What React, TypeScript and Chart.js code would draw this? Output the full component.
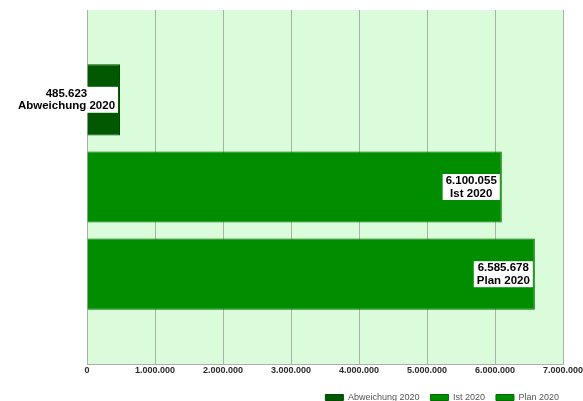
import React, { useEffect, useRef } from 'react';
import { Chart, registerables } from 'chart.js';

Chart.register(...registerables);

const categories = [''];
const seriesNames = ['Abweichung 2020', 'Ist 2020', 'Plan 2020'];
const abweichungValues = [485623];
const istValues = [6100055];
const planValues = [6585678];
const xTickLabels = ['0', '1.000.000', '2.000.000', '3.000.000', '4.000.000', '5.000.000', '6.000.000', '7.000.000'];

const FONT = '"Liberation Sans", Arial, Helvetica, sans-serif';

function fmt(n: number): string {
  return String(Math.round(n)).replace(/\B(?=(\d{3})+(?!\d))/g, '.');
}

const plotBgPlugin = {
  id: 'plotBg',
  beforeDraw(chart: any) {
    const { ctx, chartArea: a } = chart;
    ctx.save();
    ctx.fillStyle = '#dafcda';
    ctx.fillRect(a.left, a.top, a.right - a.left, a.bottom - a.top);
    ctx.restore();
  },
};

const barLabelPlugin = {
  id: 'barLabels',
  afterDatasetsDraw(chart: any) {
    const { ctx } = chart;
    ctx.save();
    ctx.font = `bold 11.5px ${FONT}`;
    chart.data.datasets.forEach((ds: any, i: number) => {
      const meta = chart.getDatasetMeta(i);
      const el = meta.data[0];
      if (!el) return;
      const lines = [fmt(ds.data[0]), ds.label];
      const w = Math.max(...lines.map((t) => ctx.measureText(t).width)) + 6;
      const h = 26;
      const right = el.x - 2;
      const left = right - w;
      const top = el.y - h / 2;
      ctx.fillStyle = '#ffffff';
      ctx.fillRect(left, top, w, h);
      ctx.fillStyle = '#000000';
      ctx.textAlign = 'center';
      ctx.textBaseline = 'middle';
      const cx = left + w / 2;
      ctx.fillText(lines[0], cx, el.y - 6);
      ctx.fillText(lines[1], cx, el.y + 6.5);
    });
    ctx.restore();
  },
};

export default function App() {
  const ref = useRef<HTMLCanvasElement | null>(null);

  useEffect(() => {
    if (!ref.current) return;
    const chart = new Chart(ref.current, {
      type: 'bar',
      data: {
        labels: categories,
        datasets: [
          {
            label: seriesNames[0],
            data: abweichungValues,
            backgroundColor: '#005800',
            borderColor: '#004a00',
            borderWidth: 1,
          },
          {
            label: seriesNames[1],
            data: istValues,
            backgroundColor: '#008e00',
            borderColor: '#006c00',
            borderWidth: 1,
          },
          {
            label: seriesNames[2],
            data: planValues,
            backgroundColor: '#008e00',
            borderColor: '#006c00',
            borderWidth: 1,
          },
        ],
      },
      options: {
        indexAxis: 'y',
        animation: false,
        responsive: false,
        devicePixelRatio: 1,
        layout: { padding: { top: 10, left: 87, right: 13, bottom: 0 } },
        datasets: {
          bar: { categoryPercentage: 0.739, barPercentage: 0.817 },
        },
        scales: {
          x: {
            type: 'linear',
            min: 0,
            max: 7000000,
            ticks: {
              stepSize: 1000000,
              padding: 1.5,
              color: '#2a2a2a',
              font: { family: FONT, size: 9, weight: 'bold' },
              maxRotation: 0,
              autoSkip: false,
              callback: (_v: any, i: number) => xTickLabels[i],
            },
            grid: { color: '#a6b3a6', lineWidth: 1, drawTicks: false },
            border: { display: true, color: '#a6b3a6' },
            afterFit: (scale: any) => {
              scale.height += 4.2;
              scale.paddingRight = 20;
            },
          },
          y: { display: false },
        },
        plugins: {
          legend: {
            position: 'bottom',
            align: 'end',
            labels: {
              boxWidth: 18,
              boxHeight: 6,
              padding: 11,
              color: '#555555',
              font: { family: FONT, size: 9 },
            },
          },
          tooltip: { enabled: false },
        },
      },
      plugins: [plotBgPlugin, barLabelPlugin],
    } as any);
    return () => chart.destroy();
  }, []);

  return (
    <div
      style={{
        position: 'fixed',
        left: 0,
        top: 0,
        width: 583,
        height: 401,
        overflow: 'hidden',
        background: '#ffffff',
      }}
    >
      <canvas ref={ref} width={583} height={412} style={{ display: 'block', width: 583, height: 412 }} />
    </div>
  );
}
